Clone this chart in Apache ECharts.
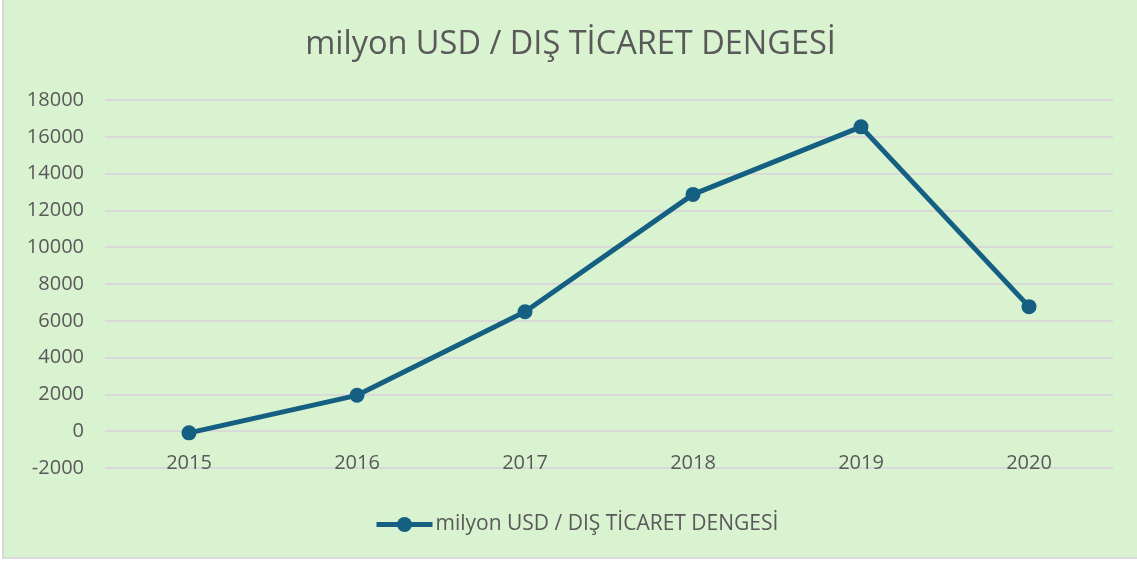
<!DOCTYPE html>
<html>
<head>
<meta charset="utf-8">
<script src="https://cdn.jsdelivr.net/npm/echarts@6/dist/echarts.min.js"></script>
<style>
html,body{margin:0;padding:0;background:#ffffff;}
#wrap{position:absolute;left:2px;top:0;width:1135px;height:559px;border-left:2px solid #d9d9d9;border-bottom:2px solid #d9d9d9;box-sizing:border-box;}
#chart{position:absolute;left:4px;top:0;width:1133px;height:557px;}
</style>
</head>
<body>
<div id="wrap"></div>
<div id="chart"></div>
<script>
const titleText = 'milyon USD / DIŞ TİCARET DENGESİ';
const seriesName = 'milyon USD / DIŞ TİCARET DENGESİ';
const categories = ['2015', '2016', '2017', '2018', '2019', '2020'];
const values = [-90, 1950, 6490, 12870, 16540, 6770];
const yMin = -2000, yMax = 18000, yStep = 2000;

const chart = echarts.init(document.getElementById('chart'));
const font = '"Open Sans", "Noto Sans", sans-serif';
chart.setOption({
  backgroundColor: '#d9f2d0',
  title: {
    text: titleText,
    left: 'center',
    top: 23,
    textStyle: {fontFamily: font, fontSize: 32.5, fontWeight: 'normal', color: '#595959'}
  },
  legend: {
    bottom: 17,
    left: 365,
    itemWidth: 56,
    itemHeight: 19,
    itemGap: 2,
    textStyle: {fontFamily: font, fontSize: 21, color: '#595959', padding: [0, 0, 0, -2]},
    lineStyle: {width: 5, color: '#156082'},
    itemStyle: {color: '#156082'},
    data: [seriesName]
  },
  grid: {left: 101, right: 24, top: 100, bottom: 89, containLabel: false},
  xAxis: {
    type: 'category',
    data: categories,
    boundaryGap: true,
    axisLine: {show: false},
    axisTick: {show: false},
    axisLabel: {fontFamily: font, fontSize: 20, color: '#595959', margin: -15}
  },
  yAxis: {
    type: 'value',
    min: yMin,
    max: yMax,
    interval: yStep,
    axisLine: {show: false},
    axisTick: {show: false},
    axisLabel: {fontFamily: font, fontSize: 20, color: '#595959', margin: 21, formatter: function (v) { return String(v); }},
    splitLine: {lineStyle: {color: '#d9d9d9', width: 2}}
  },
  series: [{
    name: seriesName,
    type: 'line',
    data: values,
    symbol: 'circle',
    symbolSize: 15,
    lineStyle: {color: '#156082', width: 5},
    itemStyle: {color: '#156082'},
    emphasis: {disabled: true},
    animation: false
  }]
});
</script>
</body>
</html>
